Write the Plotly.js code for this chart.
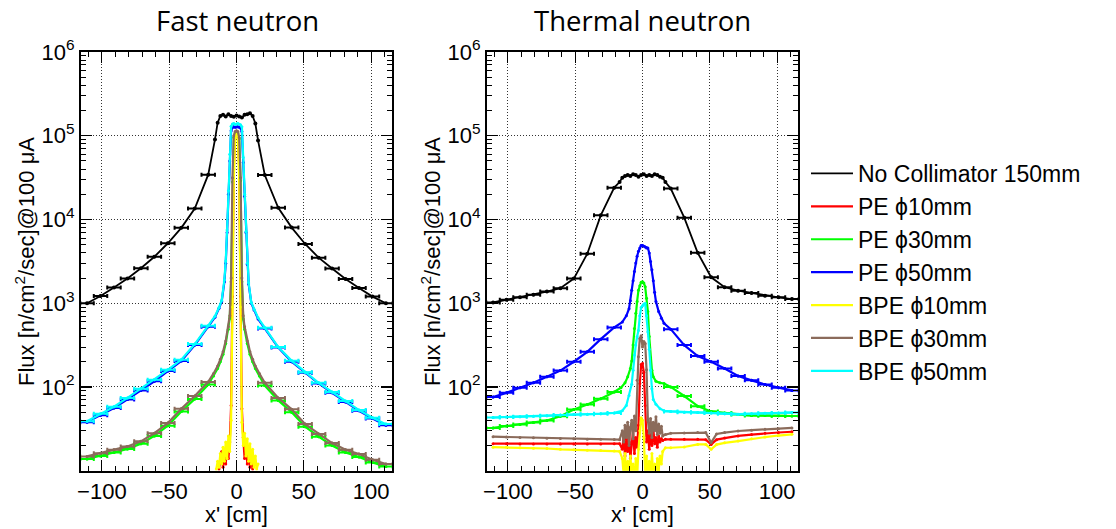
<!DOCTYPE html>
<html><head><meta charset="utf-8">
<script src="https://cdn.plot.ly/plotly-3.0.1.min.js"></script>
<style>html,body{margin:0;padding:0;background:#fff}#chart{width:1116px;height:529px}</style>
</head><body><div id="chart"></div>
<script>
// ---------------- data ----------------
const seriesNames = ["No Collimator 150mm","PE \u03d510mm","PE \u03d530mm","PE \u03d550mm","BPE \u03d510mm","BPE \u03d530mm","BPE \u03d550mm"];
const panelTitles = ["Fast neutron","Thermal neutron"];

// Fast neutron panel
const fastNoCollX = [-111,-101,-91,-81,-71,-61,-51,-41,-31,-21,-16,-14,-12,-10,-8,-6,-4,-2,0,2,4,6,8,10,12,14,16,21,31,41,51,61,71,81,91,101,111];
const fastNoCollY = [1000,1220,1540,1970,2620,3590,5200,7940,13500,34300,90000,143000,172000,178000,170000,180000,172000,168000,175000,170000,165000,178000,180000,185000,172000,140000,88000,34000,13800,8000,5100,3500,2600,1950,1520,1200,1000];

const fast10RedX = [-13,-12,-11,-10,-9,-8,-7,-6,-5,-4,-3,-2,-1,0,1,2,3,4,5,6,7,8,9,10,11,12,13];
const fastPE10Y = [10.5,13,17,11,15,12,20,14,22,60,1200,40000,100000,110000,100000,40000,1200,55,25,14,22,12,18,11,15,10.5,12];

const fast30X = [-111,-101,-91,-81,-71,-61,-51,-41,-31,-21,-17,-14,-12,-10,-8,-6,-5,-4,-3,-2,-1,0,1,2,3,4,5,6,8,10,12,14,17,21,31,41,51,61,71,81,91,101,111];
const fastPE30Y = [13.8,15,16.5,18.2,21,26,34.5,51,72,107,135,166,200,245,330,490,660,1800,28000,95000,108000,110000,108000,92000,29000,1800,650,490,330,245,200,166,135,104,69,50,33.5,25.5,20,16.5,14.6,12.5,11.2];
const fastBPE30Y = [14.8,16.2,17.8,19.5,22.4,28,37,55,78,115,145,178,214,263,355,525,708,2000,31600,100000,112000,115000,112000,95000,31600,2000,708,525,355,263,214,178,145,112,74,54,36,27.5,21.4,17.8,15.8,13.5,12];

const fast50X = [-111,-101,-91,-81,-71,-61,-51,-41,-31,-21,-16,-13,-11,-9,-8,-7,-6,-5,-4,-3,-2,-1,0,1,2,3,4,5,6,7,8,9,11,13,16,21,31,41,51,61,71,81,91,101,111];
const fastPE50Y = [38,46,56,71,91,117,155,204,316,525,680,870,1050,1800,3000,7000,20000,50000,115000,125000,128000,126000,127000,128000,126000,124000,112000,48000,19000,7000,2900,1700,1000,830,650,500,295,200,148,110,85,66,52,42,35];
const fastBPE50Y = [39,48,58,74,95,122,160,212,325,540,700,890,1080,1900,3200,7500,22000,60000,130000,138000,140000,136000,138000,140000,137000,135000,128000,55000,20000,7200,3000,1750,1020,850,670,510,300,205,150,112,87,68,53,43,36];

const fast10YellowX = [-15,-14,-13,-12,-11,-10,-9,-8,-7,-6,-5,-4,-3,-2,-1,0,1,2,3,4,5,6,7,8,9,10,11,12,13,14,15,16];
const fastBPE10Y = [10.5,13,11,16,12,19,13,22,14,26,17,40,900,30000,95000,105000,95000,30000,900,38,20,28,15,24,13,21,12,18,11,15,10.5,12];

// Thermal neutron panel
const thermNoCollX = [-111,-101,-91,-81,-71,-61,-51,-41,-31,-21,-17,-15,-13,-11,-9,-7,-5,-3,-1,1,3,5,7,9,11,13,15,17,21,31,41,51,61,71,81,91,101,111];
const thermNoCollY = [1020,1100,1175,1260,1380,1510,1970,3900,11200,24000,28000,31600,33000,33900,33100,34700,33900,32400,33900,34700,33100,33900,33100,34700,33900,32400,31600,28000,23400,10500,4000,2040,1550,1410,1320,1230,1175,1120];

const thermLowX = [-111,-101,-91,-81,-71,-61,-51,-41,-31,-21,-17,-15,-14,-13,-12,-11,-10,-9,-8,-7,-6,-5,-4,-3,-2,-1,0,1,2,3,4,5,6,7,8,9,10,11,12,13,14,15,17,21,31,41,47,51,55,61,71,81,91,101,111];
const thermPE10Y = [21,21,20.9,20.9,20.8,20.8,20.8,20.8,20.9,21,21,18,26,15,24,17,28,14,22,30,16,25,19,35,110,185,190,150,60,22,30,18,27,20,32,21,25,19,26,22,24,23,23.7,23.7,23.7,23.7,23.5,20.6,23.5,24.5,26,27,28,28.6,29.2];
const thermBPE10Y = [19.1,19,18.8,18.6,18.4,18,17.8,17.6,17.4,17.2,17,14,9,16,8,13,7,15,9,12,6,14,8,18,30,43,40,25,9,15,7,13,8,16,9,12,7,14,10,15,12,17,18.8,18.8,19.2,20.6,20.6,18,20.5,21.5,22.6,24,25.2,26.3,27.2];
const thermBPE30Y = [25.5,25.3,25,24.7,24.4,24.2,24,23.8,23.7,23.6,23.5,30,22,35,25,38,20,33,40,24,45,30,120,230,380,410,300,350,330,160,40,28,42,25,38,30,44,27,36,28,34,26,27,28,28.2,28.5,28.5,21.6,27.5,28.5,29.8,30.5,31.2,31.8,32.4];

const thermPE30X = [-111,-101,-91,-81,-71,-61,-51,-41,-31,-21,-16,-13,-11,-9,-8,-7,-6,-5,-4,-3,-2,-1,0,1,2,3,4,5,6,7,8,10,13,16,21,31,41,51,61,71,81,91,101,111];
const thermPE30Y = [32.4,34.2,35.5,37.6,39.8,44.7,53.7,61.7,72.4,87,98,112,132,166,204,316,500,760,1050,1430,1620,1780,1800,1740,1570,1150,794,400,224,158,132,117,112,110,100,78,59,51,49,47,45.7,45.5,45.2,45];

const thermPE50X = [-111,-101,-91,-81,-71,-61,-51,-41,-31,-21,-15,-12,-10,-9,-8,-7,-6,-5,-4,-3,-2,-1,0,1,2,3,4,5,6,7,8,9,10,12,14,16,21,31,41,51,61,71,81,91,101,111];
const thermPE50Y = [76,85,98,112,132,157,200,263,372,513,596,708,861,1070,1430,1860,2400,3020,3630,4170,4570,4900,4900,4790,4680,4570,4570,3980,3160,2510,1860,1350,1050,794,660,575,490,316,234,200,166,135,120,107,98,91];

const thermBPE50X = [-111,-101,-91,-81,-71,-61,-51,-41,-31,-21,-15,-12,-10,-8,-7,-6,-5,-4,-3,-2,-1,0,1,2,3,4,5,6,7,8,10,13,16,21,31,41,51,61,71,81,91,101,111];
const thermBPE50Y = [43.2,43.7,44.2,44.7,45.2,46.3,46.8,47.3,47.9,49,52,60,79,108,158,240,316,398,473,708,891,933,977,989,708,457,282,158,95,71,62,55,52,51,50,49.5,49,48,47.3,48,48.5,49,49.5];

const xTickVals = [-100,-50,0,50,100];
const yTickVals = [1e2,1e3,1e4,1e5,1e6];
const yTickText = ["10<sup>2</sup>","10<sup>3</sup>","10<sup>4</sup>","10<sup>5</sup>","10<sup>6</sup>"];

// ---------------- styles ----------------
const seriesColors = ["#000000","#ff0000","#00ff00","#0000ff","#ffff00","#8b6b5b","#00ffff"];
const seriesWidths = [1.8,2.2,2.2,2.2,2.2,2.2,2.2];

// panel -> list of [seriesIndex, x, y, withBars]
const panels = [
  {xa:'x', ya:'y', list:[
    [0, fastNoCollX, fastNoCollY, true],
    [1, fast10RedX, fastPE10Y, false],
    [2, fast30X, fastPE30Y, true],
    [3, fast50X, fastPE50Y, true],
    [4, fast10YellowX, fastBPE10Y, false],
    [5, fast30X, fastBPE30Y, true],
    [6, fast50X, fastBPE50Y, true]]},
  {xa:'x2', ya:'y2', list:[
    [0, thermNoCollX, thermNoCollY, true],
    [1, thermLowX, thermPE10Y, false],
    [2, thermPE30X, thermPE30Y, true],
    [3, thermPE50X, thermPE50Y, true],
    [4, thermLowX, thermBPE10Y, false],
    [5, thermLowX, thermBPE30Y, false],
    [6, thermBPE50X, thermBPE50Y, true]]}
];

function isBin(x){ const a = Math.abs(x); return a >= 21 && (a - 1) % 10 === 0; }

const traces = [];
panels.forEach((p, pi) => {
  p.list.forEach(([si, xs, ys, bars]) => {
    const col = seriesColors[si];
    traces.push({type:'scatter', mode:'lines', x:xs, y:ys, xaxis:p.xa, yaxis:p.ya,
      name:seriesNames[si], legendgroup:'g'+si, showlegend: pi === 0,
      line:{color:col, width:seriesWidths[si]}, hoverinfo:'skip'});
    traces.push({type:'scatter', mode:'markers', x:xs, y:ys, xaxis:p.xa, yaxis:p.ya,
      legendgroup:'g'+si, showlegend:false,
      marker:{color:col, size: si === 0 ? 4 : 3}, hoverinfo:'skip'});
    if (bars) {
      const bx = [], by = [];
      xs.forEach((x, i) => { if (isBin(x)) { bx.push(x); by.push(ys[i]); } });
      traces.push({type:'scatter', mode:'markers', x:bx, y:by, xaxis:p.xa, yaxis:p.ya,
        legendgroup:'g'+si, showlegend:false,
        marker:{color:col, size:3},
        error_x:{type:'constant', value:5, color:col, thickness:2, width:2},
        hoverinfo:'skip'});
    }
  });
});

const yMinor = [];
for (let k = 1; k <= 5; k++) for (let d = 2; d <= 9; d++) yMinor.push(d * Math.pow(10, k));

const W = 1116, H = 529;
const fontFam = 'Liberation Sans, Arial, Helvetica, sans-serif';
function xAxis(l, r, anchor){
  return {domain:[l/W, r/W], range:[-115.5,115.5], anchor:anchor, autorange:false,
    showline:true, linecolor:'#000', linewidth:2, mirror:'allticks',
    ticks:'inside', ticklen:11, tickwidth:1.2, tickcolor:'#000',
    tickmode:'array', tickvals:xTickVals,
    minor:{tickmode:'linear', tick0:0, dtick:10, ticks:'inside', ticklen:5, tickwidth:1, tickcolor:'#000', showgrid:false},
    showgrid:true, gridcolor:'#333', griddash:'1px,2px', gridwidth:1, zeroline:false,
    tickfont:{family:fontFam, size:22, color:'#000'}};
}
function yAxis(anchor){
  return {type:'log', domain:[(H-470.7)/H, (H-52)/H], range:[1,6], anchor:anchor, autorange:false,
    showline:true, linecolor:'#000', linewidth:2, mirror:'allticks',
    ticks:'inside', ticklen:11, tickwidth:1.2, tickcolor:'#000',
    tickmode:'array', tickvals:yTickVals, ticktext:yTickText,
    minor:{tickmode:'array', tickvals:yMinor, ticks:'inside', ticklen:5, tickwidth:1, tickcolor:'#000', showgrid:false},
    showgrid:true, gridcolor:'#333', griddash:'1px,2px', gridwidth:1, zeroline:false,
    tickfont:{family:fontFam, size:22, color:'#000'}};
}

const ytitle = 'Flux [n/cm<sup>2</sup>/sec]@100 \u03bcA';
const layout = {
  width:W, height:H, margin:{l:0,r:0,t:0,b:0},
  paper_bgcolor:'#fff', plot_bgcolor:'#fff',
  xaxis: xAxis(81, 392, 'y'),
  yaxis: yAxis('x'),
  xaxis2: xAxis(487, 798, 'y2'),
  yaxis2: yAxis('x2'),
  showlegend:true,
  legend:{x:806/W, y:1-152/H, xanchor:'left', yanchor:'top', bgcolor:'rgba(0,0,0,0)',
    font:{family:fontFam, size:23, color:'#000'}, tracegroupgap:0, traceorder:'normal', itemwidth:42},
  annotations:[
    {text:panelTitles[0], xref:'paper', yref:'paper', x:237/W, y:1-20/H, showarrow:false, xanchor:'center', yanchor:'middle', font:{family:'Open Sans, sans-serif', size:27.5, color:'#000'}},
    {text:panelTitles[1], xref:'paper', yref:'paper', x:642/W, y:1-20/H, showarrow:false, xanchor:'center', yanchor:'middle', font:{family:'Open Sans, sans-serif', size:27.5, color:'#000'}},
    {text:ytitle, xref:'paper', yref:'paper', x:25/W, y:1-262/H, textangle:-90, showarrow:false, xanchor:'center', yanchor:'middle', font:{family:fontFam, size:22, color:'#000'}},
    {text:ytitle, xref:'paper', yref:'paper', x:431/W, y:1-262/H, textangle:-90, showarrow:false, xanchor:'center', yanchor:'middle', font:{family:fontFam, size:22, color:'#000'}},
    {text:"x' [cm]", xref:'paper', yref:'paper', x:236/W, y:1-514/H, showarrow:false, xanchor:'center', yanchor:'middle', font:{family:fontFam, size:22, color:'#000'}},
    {text:"x' [cm]", xref:'paper', yref:'paper', x:642/W, y:1-514/H, showarrow:false, xanchor:'center', yanchor:'middle', font:{family:fontFam, size:22, color:'#000'}}
  ]
};

Plotly.newPlot('chart', traces, layout, {displayModeBar:false, staticPlot:true});
</script>
</body></html>
